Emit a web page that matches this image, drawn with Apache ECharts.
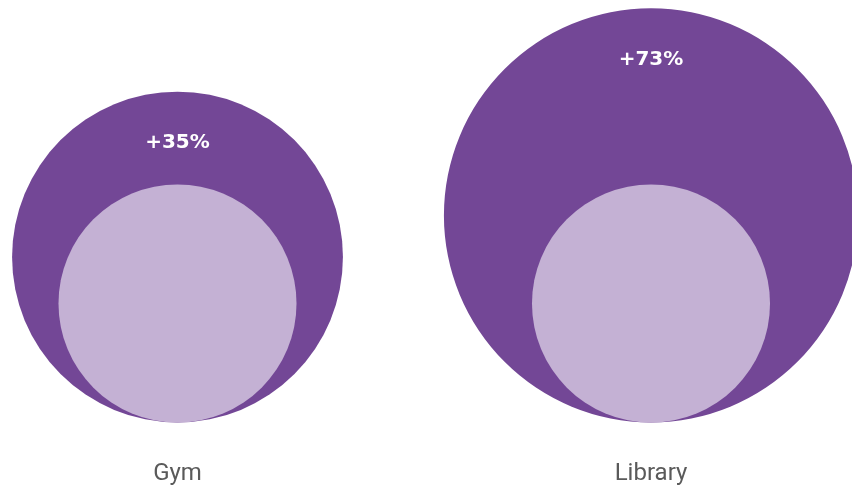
<!DOCTYPE html>
<html>
<head>
<meta charset="utf-8">
<script src="https://cdn.jsdelivr.net/npm/echarts@6/dist/echarts.min.js"></script>
<style>html,body{margin:0;padding:0;background:#fff}#c{width:852px;height:487px}</style>
</head>
<body>
<div id="c"></div>
<script>
const categories = ['Gym', 'Library'];
const beforeValues = [100, 100];
const afterValues = [139, 174];
const changeLabels = ['+35%', '+73%'];

const DARK = '#734796';
const LIGHT = '#c4b1d4';

const chart = echarts.init(document.getElementById('c'));

function circleRender(color, withLabel) {
  return function (params, api) {
    const idx = api.value(0);
    const r = api.value(1);
    const c = api.coord([idx, r]);
    const rp = api.size([0, r])[1];
    const children = [{
      type: 'circle',
      shape: { cx: c[0], cy: c[1], r: rp },
      style: { fill: color }
    }];
    if (withLabel) {
      children.push({
        type: 'text',
        style: {
          x: c[0], y: c[1] - rp + 51,
          text: changeLabels[idx],
          fill: '#ffffff',
          font: 'bold 20px "DejaVu Sans", sans-serif',
          align: 'center', verticalAlign: 'middle'
        }
      });
    }
    return { type: 'group', children: children };
  };
}

chart.setOption({
  animation: false,
  grid: { left: 177.5, right: 201, top: 0, bottom: 64.5 },
  xAxis: {
    type: 'category',
    data: categories,
    boundaryGap: false,
    axisLine: { show: false },
    axisTick: { show: false },
    splitLine: { show: false },
    axisLabel: { margin: 39, color: '#5a5a5a', fontSize: 24, fontFamily: 'Roboto, sans-serif' }
  },
  yAxis: { type: 'value', min: 0, max: 355, show: false, splitLine: { show: false } },
  series: [
    {
      type: 'custom',
      clip: false,
      renderItem: circleRender(DARK, true),
      data: afterValues.map((v, i) => [i, v])
    },
    {
      type: 'custom',
      clip: false,
      renderItem: circleRender(LIGHT, false),
      data: beforeValues.map((v, i) => [i, v])
    }
  ]
});
</script>
</body>
</html>
